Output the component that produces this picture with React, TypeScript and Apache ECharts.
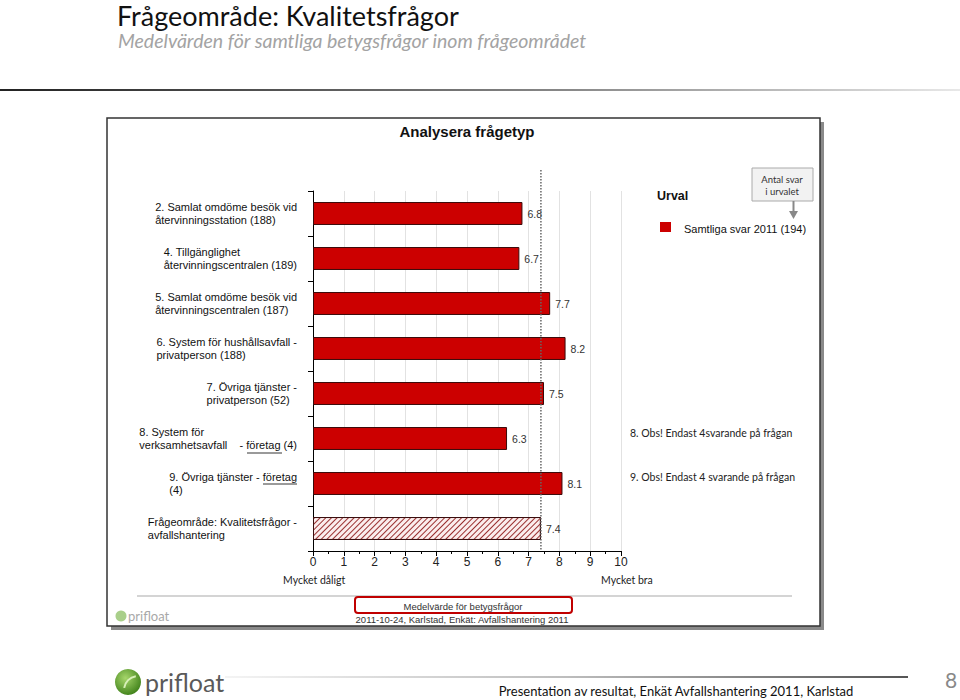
import React, { useEffect, useRef } from 'react';
import * as echarts from 'echarts';

const categories: string[] = [
  '2. Samlat omdöme besök vid\nåtervinningsstation (188)',
  '4. Tillgänglighet\nåtervinningscentralen (189)',
  '5. Samlat omdöme besök vid\nåtervinningscentralen (187)',
  '6. System för hushållsavfall -\nprivatperson (188)',
  '7. Övriga tjänster -\nprivatperson (52)',
  '8. System för\nverksamhetsavfall    - företag (4)',
  '9. Övriga tjänster - företag\n(4)',
  'Frågeområde: Kvalitetsfrågor -\navfallshantering',
];
const values: number[] = [6.8, 6.7, 7.7, 8.2, 7.5, 6.3, 8.1, 7.4];
const areaAverage = 7.4;
const xMin = 0;
const xMax = 10;
const xInterval = 1;
const notes: string[] = ['8. Obs! Endast 4svarande på frågan', '9. Obs! Endast 4 svarande på frågan'];
const legendLabel = 'Samtliga svar 2011 (194)';

const GRID = { left: 313, right: 339, top: 191, bottom: 149 };
const ARIAL = 'Liberation Sans, Arial, sans-serif';
const CAL = 'Lato, Open Sans, sans-serif';

export default function App() {
  const ref = useRef<HTMLDivElement>(null);
  useEffect(() => {
    if (!ref.current) return;
    const chart = echarts.init(ref.current, undefined, { renderer: 'svg' });
    const barData = values.map((v, i) =>
      i === values.length - 1
        ? {
            value: v,
            itemStyle: {
              color: '#fbeeee',
              borderColor: '#3a1010',
              borderWidth: 1,
              decal: {
                symbol: 'rect',
                symbolSize: 1,
                color: '#9a3030',
                dashArrayX: [1, 0],
                dashArrayY: [1, 3],
                rotation: -Math.PI / 4,
              },
            },
          }
        : v
    );
    chart.setOption({
      animation: false,
      backgroundColor: '#ffffff',
      grid: { ...GRID, containLabel: false },
      xAxis: {
        type: 'value',
        min: xMin,
        max: xMax,
        interval: xInterval,
        axisLine: { show: true, lineStyle: { color: '#000', width: 1 } },
        axisTick: { show: true, length: 5, lineStyle: { color: '#000' } },
        minorTick: { show: true, splitNumber: 2, length: 3, lineStyle: { color: '#000' } },
        splitLine: { show: true, lineStyle: { color: '#e2e2e2', width: 1 } },
        axisLabel: { color: '#222', fontFamily: ARIAL, fontSize: 12, margin: 5 },
      },
      yAxis: {
        type: 'category',
        inverse: true,
        data: categories,
        axisLine: { show: true, lineStyle: { color: '#000', width: 1 } },
        axisTick: { show: true, length: 5, lineStyle: { color: '#000' } },
        splitLine: { show: false },
        axisLabel: {
          margin: 16,
          color: '#111',
          fontFamily: ARIAL,
          fontSize: 11,
          lineHeight: 13,
          formatter: (s: string) =>
            s
              .split('\n')
              .map((l) => '{l|' + l + '}')
              .join('\n'),
          rich: { l: { align: 'left', fontFamily: ARIAL, fontSize: 11, lineHeight: 13, color: '#111' } },
        },
      },
      series: [
        {
          type: 'bar',
          data: barData,
          barWidth: '51%',
          itemStyle: { color: '#cc0000', borderColor: '#3a0a0a', borderWidth: 1 },
          label: {
            show: true,
            position: 'right',
            distance: 5,
            color: '#333',
            fontFamily: ARIAL,
            fontSize: 10.5,
            formatter: (p: any) => String(p.value),
          },
          z: 3,
        },
      ],
    });

    const avgX = chart.convertToPixel({ xAxisIndex: 0 }, areaAverage) as number;
    const gridBottomY = 700 - GRID.bottom;

    const graphic: any[] = [
      // page title
      { type: 'text', x: 117, y: 15, style: { text: 'Frågeområde: Kvalitetsfrågor', fill: '#111', font: '27px Lato, sans-serif', verticalAlign: 'middle' }, z: 1 },
      { type: 'text', x: 118, y: 40.5, style: { text: 'Medelvärden för samtliga betygsfrågor inom frågeområdet', fill: '#a3a3a3', font: 'italic 19.5px Lato, sans-serif', verticalAlign: 'middle' }, z: 1 },
      {
        type: 'rect', shape: { x: 0, y: 89, width: 960, height: 2 }, z: 1,
        style: { fill: new echarts.graphic.LinearGradient(0, 0, 1, 0, [{ offset: 0, color: '#222' }, { offset: 0.6, color: '#8a8a8a' }, { offset: 1, color: '#e8e8e8' }]) },
      },
      // frame
      { type: 'rect', shape: { x: 111, y: 122, width: 713, height: 508 }, style: { fill: '#8a8a8a' }, z: -20 },
      { type: 'rect', shape: { x: 107, y: 118, width: 713, height: 508 }, style: { fill: '#fff', stroke: '#333', lineWidth: 1.5 }, z: -10 },
      { type: 'text', x: 467, y: 131, style: { text: 'Analysera frågetyp', fill: '#111', font: 'bold 15px ' + ARIAL, align: 'center', verticalAlign: 'middle' }, z: 1 },
      // legend
      { type: 'text', x: 657, y: 196, style: { text: 'Urval', fill: '#111', font: 'bold 12.5px ' + ARIAL, verticalAlign: 'middle' }, z: 1 },
      { type: 'rect', shape: { x: 660, y: 222, width: 11, height: 10 }, style: { fill: '#cc0000' }, z: 1 },
      { type: 'text', x: 684, y: 229, style: { text: legendLabel, fill: '#111', font: '11px ' + ARIAL, verticalAlign: 'middle' }, z: 1 },
      // Antal svar box
      { type: 'rect', shape: { x: 752, y: 168, width: 61, height: 33 }, style: { fill: '#f2f2f2', stroke: '#aaa', lineWidth: 1 }, z: 1 },
      { type: 'text', x: 782, y: 179, style: { text: 'Antal svar', fill: '#333', font: '9.5px ' + CAL, align: 'center', verticalAlign: 'middle' }, z: 2 },
      { type: 'text', x: 782, y: 191, style: { text: 'i urvalet', fill: '#333', font: '9.5px ' + CAL, align: 'center', verticalAlign: 'middle' }, z: 2 },
      { type: 'line', shape: { x1: 793.5, y1: 201, x2: 793.5, y2: 212 }, style: { stroke: '#888', lineWidth: 2 }, z: 1 },
      { type: 'polygon', shape: { points: [[789, 211], [798, 211], [793.5, 219]] }, style: { fill: '#888' }, z: 1 },
      // notes
      { type: 'text', x: 630, y: 433, style: { text: notes[0], fill: '#222', font: '10.5px ' + CAL, verticalAlign: 'middle' }, z: 1 },
      { type: 'text', x: 630, y: 477, style: { text: notes[1], fill: '#222', font: '10.5px ' + CAL, verticalAlign: 'middle' }, z: 1 },
      // underlines
      { type: 'rect', shape: { x: 247, y: 452, width: 35, height: 2 }, style: { fill: '#9a9a9a' }, z: 1 },
      { type: 'rect', shape: { x: 263, y: 483, width: 34, height: 2 }, style: { fill: '#9a9a9a' }, z: 1 },
      // average dotted line
      { type: 'line', shape: { x1: avgX, y1: 170, x2: avgX, y2: gridBottomY }, style: { stroke: '#666', lineWidth: 1.5, lineDash: [1.5, 1.5] }, z: 5 },
      // scale ends
      { type: 'text', x: 283, y: 580, style: { text: 'Mycket dåligt', fill: '#222', font: '10.5px ' + CAL, verticalAlign: 'middle' }, z: 1 },
      { type: 'text', x: 601, y: 580, style: { text: 'Mycket bra', fill: '#222', font: '10.5px ' + CAL, verticalAlign: 'middle' }, z: 1 },
      { type: 'rect', shape: { x: 137, y: 595, width: 655, height: 2 }, style: { fill: '#d4d4d4' }, z: 1 },
      // red box caption
      { type: 'rect', shape: { x: 355, y: 597, width: 217, height: 16, r: 3 }, style: { fill: '#fff', stroke: '#c00000', lineWidth: 2 }, z: 1 },
      { type: 'text', x: 463, y: 606, style: { text: 'Medelvärde för betygsfrågor', fill: '#333', font: '9.5px ' + ARIAL, align: 'center', verticalAlign: 'middle' }, z: 2 },
      { type: 'text', x: 462, y: 619, style: { text: '2011-10-24, Karlstad, Enkät: Avfallshantering 2011', fill: '#333', font: '9.5px ' + ARIAL, align: 'center', verticalAlign: 'middle' }, z: 2 },
      // small logo
      { type: 'circle', shape: { cx: 121, cy: 616, r: 5.5 }, style: { fill: '#a9cf8a' }, z: 1 },
      { type: 'text', x: 128, y: 616, style: { text: 'prifloat', fill: '#a8a8a8', font: '13px ' + CAL, verticalAlign: 'middle' }, z: 1 },
      // footer
      {
        type: 'circle', shape: { cx: 128, cy: 682, r: 13 }, z: 1,
        style: { fill: new echarts.graphic.RadialGradient(0.4, 0.35, 0.7, [{ offset: 0, color: '#a6d66a' }, { offset: 1, color: '#3d7f18' }]) },
      },
      { type: 'arc', shape: { cx: 138, cy: 690, r: 14, startAngle: Math.PI * 1.05, endAngle: Math.PI * 1.45 }, style: { stroke: '#d8efb8', lineWidth: 2, fill: 'none' }, z: 2 },
      { type: 'text', x: 145, y: 682, style: { text: 'prifloat', fill: '#5a5a5a', font: '25px ' + CAL, verticalAlign: 'middle' }, z: 1 },
      {
        type: 'rect', shape: { x: 225, y: 676, width: 683, height: 2 }, z: 1,
        style: { fill: new echarts.graphic.LinearGradient(0, 0, 1, 0, [{ offset: 0, color: '#f4f4f4' }, { offset: 0.5, color: '#bdbdbd' }, { offset: 1, color: '#555' }]) },
      },
      { type: 'text', x: 676, y: 691, style: { text: 'Presentation av resultat, Enkät Avfallshantering 2011, Karlstad', fill: '#111', font: '13px ' + CAL, align: 'center', verticalAlign: 'middle' }, z: 1 },
      { type: 'text', x: 951, y: 679, style: { text: '8', fill: '#888', font: '21px ' + CAL, align: 'center', verticalAlign: 'middle' }, z: 1 },
    ];
    chart.setOption({ graphic });
    return () => chart.dispose();
  }, []);
  return <div ref={ref} style={{ position: 'fixed', left: 0, top: 0, width: 960, height: 700 }} />;
}
